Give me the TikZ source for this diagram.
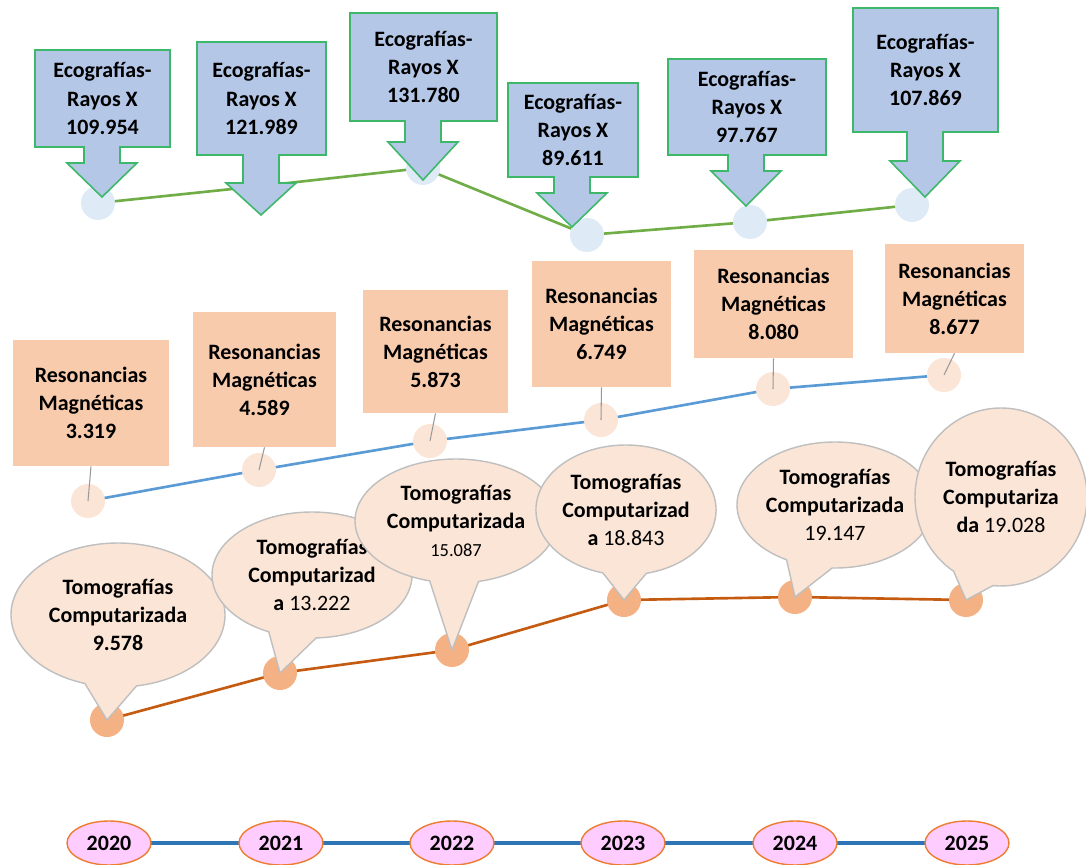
\documentclass[tikz,border=0pt]{standalone}
\usepackage{fontspec}
\setmainfont{Carlito}
\usetikzlibrary{shapes.geometric,shapes.callouts}

\definecolor{ecofill}{HTML}{B4C7E7}
\definecolor{ecoedge}{HTML}{3DB86A}
\definecolor{ecoline}{HTML}{70AD47}
\definecolor{ecodot}{HTML}{DEEBF7}
\definecolor{resfill}{HTML}{F8CBAD}
\definecolor{resdot}{HTML}{FBE5D6}
\definecolor{resline}{HTML}{5B9BD5}
\definecolor{tomfill}{HTML}{FBE5D6}
\definecolor{tomedge}{HTML}{BFBFBF}
\definecolor{tomdot}{HTML}{F4B183}
\definecolor{tomline}{HTML}{C55A11}
\definecolor{yearfill}{HTML}{FFCCFF}
\definecolor{yearedge}{HTML}{ED7D31}
\definecolor{yearline}{HTML}{2E75B6}
\newcommand{\unitpx}{0.02cm}

\begin{document}
\begin{tikzpicture}[x=0.02cm,y=-0.02cm,font=\fontsize{12.5}{16}\selectfont\bfseries,
  ecoshape/.style={fill=ecofill,draw=ecoedge,line width=0.9pt,line join=miter},
  ecotxt/.style={align=center,inner sep=0pt},
  dotnode/.style={circle,minimum size=34*\unitpx,inner sep=0pt},
  resbox/.style={rectangle,fill=resfill,align=center,inner sep=0pt},
  resstick/.style={draw=gray!80,line width=0.6pt},
  tomballoon/.style={ellipse callout,callout pointer arc=28,fill=tomfill,draw=tomedge,
    line width=0.8pt,align=center,inner sep=0pt},
  yearnode/.style={ellipse,fill=yearfill,draw=yearedge,line width=0.8pt,
    minimum width=84*\unitpx,minimum height=44*\unitpx,inner sep=0pt}]
\useasboundingbox (0,0) rectangle (1086,865);

% Ecografias - Rayos X
\foreach \x/\y [count=\i] in {98/203,261/186,423/168,587/235,750/222,912/205}
  \coordinate (e\i) at (\x,\y);
\draw[ecoline,line width=1.5pt] (e1) -- (e2) -- (e3) -- (e4) -- (e5) -- (e6);
\foreach \i in {1,...,6}
  \node[dotnode,fill=ecodot] (ed\i) at (e\i) {};
\foreach \l/\r/\t/\b/\c/\h/\p/\v [count=\i] in {35/170/50/147/102/163/197/109.954,
    197/326/42/155/261/183/215/121.989,350/497/13/121/423/142/180/131.780,
    508/638/83/177/572/193/227/89.611,668/826/59/155/746/171/206/97.767,
    853/998/8/132/925/161/197/107.869}
{
  \draw[ecoshape] (\l,\t) -- (\r,\t) -- (\r,\b) -- (\c+18,\b) -- (\c+18,\h) -- (\c+35,\h)
    -- (\c,\p) -- (\c-35,\h) -- (\c-18,\h) -- (\c-18,\b) -- (\l,\b) -- cycle;
  \node[ecotxt] (eco\i) at ({(\l+\r)/2},{(\t+\b)/2}) {Ecografías-\\Rayos X\\\v};
}

% Resonancias Magneticas
\foreach \x/\y/\w/\h/\v [count=\i] in {91/403/156/126/3.319,264.5/379.5/143/135/4.589,
    435.5/351.5/145/123/5.873,601.5/324/139/126/6.749,773.5/304/159/108/8.080,
    954.5/298.5/139/109/8.677}
  \node[resbox,minimum width=\w*\unitpx,minimum height=\h*\unitpx] (res\i) at (\x,\y)
    {Resonancias\\Magnéticas\\\v};
\foreach \x/\y [count=\i] in {88/501,259/470,430/441,601/420,773/389,944/375}
  \coordinate (r\i) at (\x,\y);
\draw[resline,line width=1.5pt] (r1) -- (r2) -- (r3) -- (r4) -- (r5) -- (r6);
\foreach \i in {1,...,6}
{
  \node[dotnode,fill=resdot] (rd\i) at (r\i) {};
  \draw[resstick] (res\i.south) -- (rd\i.center);
}

% Tomografias Computarizadas
\foreach \x/\y [count=\i] in {107/720,280/673,452/650,624/600,795/597,966/600}
  \coordinate (t\i) at (\x,\y);
\draw[tomline,line width=1.5pt] (t1) -- (t2) -- (t3) -- (t4) -- (t5) -- (t6);
\foreach \i in {1,...,6}
  \node[dotnode,fill=tomdot] (td\i) at (t\i) {};
\foreach \x/\y/\w/\h/\txt [count=\i] in {118/615/214/144/{Tomografías\\Computarizada\\9.578},
    312/575/200/126/{Tomografías\\Computarizad\\a {\mdseries 13.222}},
    456/521/202/124/{Tomografías\\Computarizada\\{\mdseries\fontsize{10.5}{14}\selectfont 15.087}},
    626/510/172/130/{Tomografías\\Computarizad\\a {\mdseries 18.843}},
    835/505/196/126/{Tomografías\\Computarizada\\{\mdseries 19.147}},
    1001/497/172/178/{Tomografías\\Computariza\\da {\mdseries 19.028}}}
  \node[tomballoon,minimum width=\w*\unitpx,minimum height=\h*\unitpx,
    callout absolute pointer={(td\i.center)}] (tom\i) at (\x,\y) {\txt};

% Years
\foreach \x/\v [count=\i] in {109/2020,281/2021,452/2022,623/2023,795/2024,967/2025}
  \coordinate (y\i) at (\x,843);
\draw[yearline,line width=1.8pt] (y1) -- (y6);
\foreach \i/\v in {1/2020,2/2021,3/2022,4/2023,5/2024,6/2025}
  \node[yearnode] (year\i) at (y\i) {\v};
\end{tikzpicture}
\end{document}
